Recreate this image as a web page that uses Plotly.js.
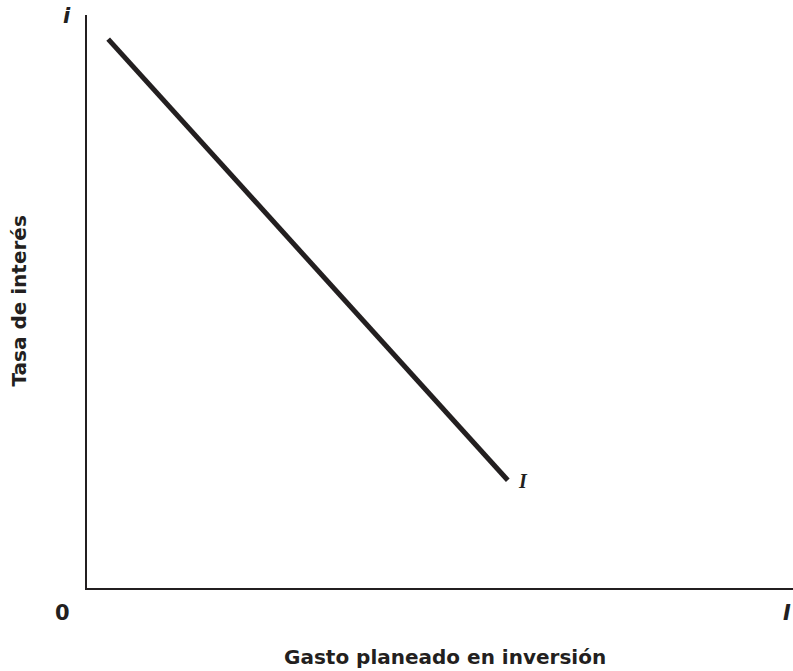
<!DOCTYPE html>
<html>
<head>
<meta charset="utf-8">
<script src="https://cdn.plot.ly/plotly-3.0.1.min.js"></script>
<style>html,body{margin:0;padding:0;background:#fff;}#chart{width:793px;height:671px;}</style>
</head>
<body>
<div id="chart"></div>
<script>
// Investment demand curve: interest rate vs planned investment spending
const investment = [3, 59.6];
const interestRate = [95.8, 18.8];
const curveLabel = "I";
const xTitle = "Gasto planeado en inversión";
const yTitle = "Tasa de interés";

const trace = {
  x: investment,
  y: interestRate,
  mode: "lines",
  line: {color: "#231f20", width: 5},
  hoverinfo: "skip",
  showlegend: false
};

const font = "'DejaVu Sans', 'Open Sans', sans-serif";

const layout = {
  width: 793, height: 671,
  margin: {l: 87, r: 0, t: 15, b: 83},
  paper_bgcolor: "#fff", plot_bgcolor: "#fff",
  xaxis: {range: [0, 100], showgrid: false, zeroline: false, showticklabels: false, ticks: "",
          showline: true, linecolor: "#231f20", linewidth: 2, fixedrange: true},
  yaxis: {range: [0, 100], showgrid: false, zeroline: false, showticklabels: false, ticks: "",
          showline: true, linecolor: "#231f20", linewidth: 2, fixedrange: true},
  annotations: [
    {x: investment[1], y: interestRate[1], xref: "x", yref: "y", text: "<b><i>" + curveLabel + "</i></b>",
     showarrow: false, xanchor: "left", yanchor: "middle", xshift: 8, yshift: -1,
     font: {family: "'Liberation Serif', 'DejaVu Serif', serif", size: 20, color: "#231f20"}},
    {x: 0, y: 1, xref: "paper", yref: "paper", text: "<b><i>i</i></b>", showarrow: false,
     xanchor: "center", yanchor: "middle", xshift: -20, yshift: -1,
     font: {family: font, size: 21, color: "#231f20"}},
    {x: 0, y: 0, xref: "paper", yref: "paper", text: "<b>0</b>", showarrow: false,
     xanchor: "center", yanchor: "middle", xshift: -25, yshift: -25,
     font: {family: font, size: 21, color: "#231f20"}},
    {x: 1, y: 0, xref: "paper", yref: "paper", text: "<b><i>I</i></b>", showarrow: false,
     xanchor: "right", yanchor: "middle", xshift: 0, yshift: -25,
     font: {family: font, size: 21, color: "#231f20"}},
    {x: 0.5, y: 0, xref: "paper", yref: "paper", text: "<b>" + xTitle + "</b>", showarrow: false,
     xanchor: "center", yanchor: "middle", xshift: 5, yshift: -69,
     font: {family: font, size: 20, color: "#231f20"}},
    {x: 0, y: 0.5, xref: "paper", yref: "paper", text: "<b>" + yTitle + "</b>", showarrow: false,
     textangle: -90, xanchor: "center", yanchor: "middle", xshift: -69, yshift: 0,
     font: {family: font, size: 20, color: "#231f20"}}
  ]
};

Plotly.newPlot("chart", [trace], layout, {staticPlot: true, displayModeBar: false});
</script>
</body>
</html>
